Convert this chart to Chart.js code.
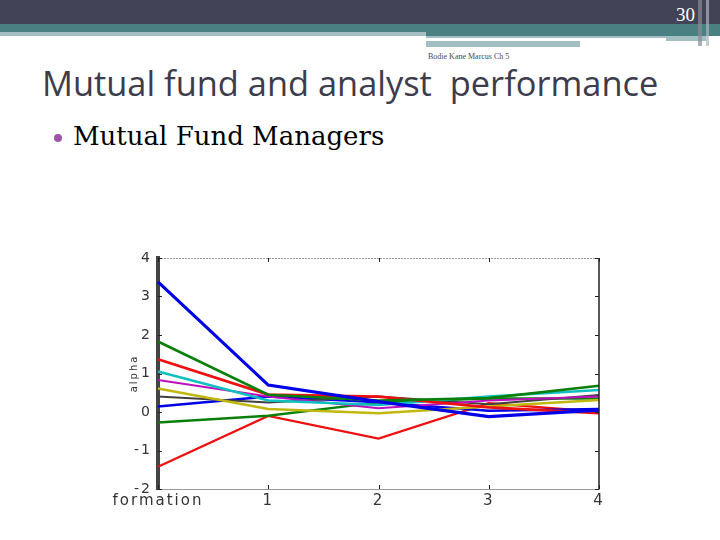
<!DOCTYPE html>
<html><head><meta charset="utf-8">
<script src="https://cdn.jsdelivr.net/npm/chart.js@4.4.0/dist/chart.umd.min.js"></script>
<style>
html,body{margin:0;padding:0;background:#fff;}
#slide{position:relative;width:720px;height:540px;overflow:hidden;background:#fff;}
.bar{position:absolute;}
#title{position:absolute;left:42px;top:66px;font-family:"Open Sans",sans-serif;font-size:34.4px;color:#3c3c4c;white-space:pre;line-height:1;}
#bullet{position:absolute;left:73px;top:123px;font-family:"DejaVu Serif",serif;font-size:26px;color:#000;white-space:pre;line-height:1;}
#dot{position:absolute;left:54px;top:134px;width:8px;height:8px;border-radius:50%;background:#9a56a8;}
#foot{position:absolute;left:428px;top:52px;font-family:"Liberation Serif",serif;font-size:8px;color:#444a55;white-space:pre;}
#num{position:absolute;left:676px;top:4px;font-family:"Liberation Serif",serif;font-size:19px;color:#fff;}
#wrap{position:absolute;left:100px;top:240px;width:520px;height:280px;}
</style></head><body>
<div id="slide">
  <div class="bar" style="left:0;top:0;width:720px;height:24px;background:#424356;"></div>
  <div class="bar" style="left:0;top:24px;width:720px;height:12px;background:#4a8082;"></div>
  <div class="bar" style="left:0;top:32px;width:426px;height:4px;background:#a3bfc2;"></div>
  <div class="bar" style="left:426px;top:36px;width:280px;height:10px;background:#a3bfc2;"></div>
  <div class="bar" style="left:426px;top:38px;width:240px;height:3px;background:#fff;"></div>
  <div class="bar" style="left:426px;top:41px;width:154px;height:6px;background:#a3bfc2;"></div>
  <div class="bar" style="left:580px;top:41px;width:126px;height:6px;background:#fff;"></div>
  <div class="bar" style="left:698px;top:0;width:4px;height:46px;background:#8a8c98;opacity:0.7;"></div>
  <div class="bar" style="left:706px;top:0;width:3px;height:46px;background:#b0b4bc;opacity:0.7;"></div>
  <div id="num">30</div>
  <div id="foot">Bodie Kane Marcus Ch 5</div>
  <div id="title">Mutual fund and analyst  performance</div>
  <div id="dot"></div>
  <div id="bullet">Mutual Fund Managers</div>
  <div id="wrap"><canvas id="c" width="520" height="280"></canvas></div>
</div>
<script>
const categories = ['formation', '1', '2', '3', '4'];
const yTicks = [-2, -1, 0, 1, 2, 3, 4];
const s1 = [3.38, 0.70, 0.27, -0.12, 0.05];
const s2 = [1.83, 0.45, 0.30, 0.36, 0.68];
const s3 = [1.37, 0.45, 0.40, 0.12, -0.03];
const s4 = [1.05, 0.30, 0.18, 0.40, 0.57];
const s5 = [0.83, 0.40, 0.10, 0.30, 0.40];
const s6 = [0.61, 0.08, -0.03, 0.14, 0.31];
const s7 = [0.40, 0.25, 0.40, 0.20, 0.44];
const s8 = [0.14, 0.40, 0.25, 0.03, 0.08];
const s9 = [-0.27, -0.10, 0.25, 0.35, 0.35];
const s10 = [-1.42, -0.10, -0.69, 0.23, 0.00];
const seriesList = [s1, s2, s3, s4, s5, s6, s7, s8, s9, s10];
const colors = ['#0000e8', '#0a800a', '#ee1010', '#10c0c0', '#bc10bc', '#c0b810', '#404040', '#0000e8', '#0a800a', '#ee1010'];
const widths = [3.2, 2.6, 2.8, 2.5, 2, 2.5, 2, 2.5, 2.5, 2.3];

const spacing = {
  id: 'spacing',
  beforeDraw(chart) { chart.ctx.letterSpacing = '2px'; }
};

const frame = {
  id: 'frame',
  afterDraw(chart) {
    const {ctx, chartArea: a, scales: {x, y}} = chart;
    ctx.save();
    ctx.strokeStyle = '#222';
    ctx.lineWidth = 1.5;
    ctx.beginPath(); ctx.moveTo(a.right, a.top); ctx.lineTo(a.right, a.bottom); ctx.stroke();
    ctx.strokeStyle = '#999';
    ctx.lineWidth = 1;
    ctx.setLineDash([2, 1]);
    ctx.beginPath(); ctx.moveTo(a.left, a.top + 0.5); ctx.lineTo(a.right, a.top + 0.5); ctx.stroke();
    ctx.setLineDash([]);
    ctx.strokeStyle = '#222';
    ctx.lineWidth = 1;
    yTicks.forEach(v => {
      const py = Math.round(y.getPixelForValue(v)) + 0.5;
      ctx.beginPath(); ctx.moveTo(a.left, py); ctx.lineTo(a.left + 4, py); ctx.stroke();
      ctx.beginPath(); ctx.moveTo(a.right - 4, py); ctx.lineTo(a.right, py); ctx.stroke();
    });
    categories.forEach((c, i) => {
      const px = Math.round(x.getPixelForValue(i)) + 0.5;
      ctx.beginPath(); ctx.moveTo(px, a.bottom); ctx.lineTo(px, a.bottom - 4); ctx.stroke();
      ctx.beginPath(); ctx.moveTo(px, a.top); ctx.lineTo(px, a.top + 4); ctx.stroke();
    });
    ctx.restore();
  }
};

new Chart(document.getElementById('c'), {
  type: 'line',
  data: {
    labels: categories,
    datasets: seriesList.map((d, i) => ({
      data: d, borderColor: colors[i], borderWidth: widths[i], pointRadius: 0, tension: 0, fill: false
    }))
  },
  options: {
    responsive: false, animation: false,
    layout: {padding: {left: 0, right: 21, top: 18, bottom: 0}},
    plugins: {legend: {display: false}, tooltip: {enabled: false}},
    scales: {
      x: {
        type: 'category', offset: false,
        grid: {display: false, drawTicks: false},
        border: {display: true, color: '#9a9a9a', width: 1},
        ticks: {color: '#333', font: {family: 'DejaVu Sans', size: 15}, padding: 3, maxRotation: 0, autoSkip: false},
        afterFit(s) { s.height = 31; }
      },
      y: {
        min: -2, max: 4,
        grid: {display: false, drawTicks: false},
        border: {display: true, color: '#444', width: 4},
        ticks: {stepSize: 1, color: '#333', font: {family: 'DejaVu Sans', size: 14}, padding: 6},
        title: {display: true, text: 'alpha', color: '#333', font: {family: 'DejaVu Sans', size: 10}, padding: {top: 28, bottom: 0}},
        afterFit(s) { s.width = 58; }
      }
    }
  },
  plugins: [spacing, frame]
});
</script>
</body></html>
